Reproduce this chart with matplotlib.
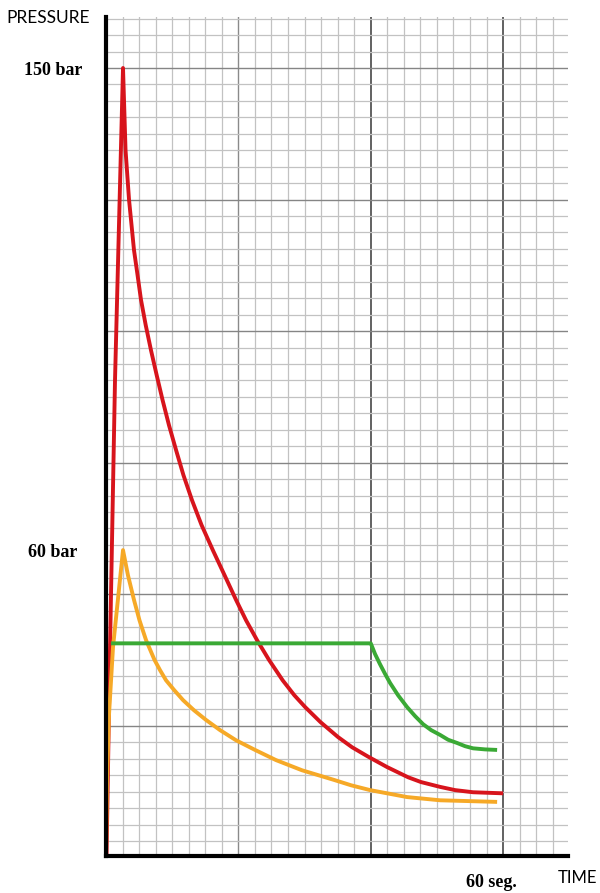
import numpy as np
import matplotlib
matplotlib.use("Agg")
import matplotlib.pyplot as plt
from matplotlib.transforms import ScaledTranslation

# ---- data (time in s, pressure in bar) ----
red_t = [0.08, 0.60, 1.36, 2.57, 2.72, 2.95, 3.48, 4.23, 4.76, 5.29, 6.00, 6.80, 7.65, 8.55,
         9.52, 10.58, 11.70, 13.00, 14.43, 16.14, 17.92, 19.65, 21.16, 22.82, 24.63, 26.69,
         28.46, 30.09, 32.40, 35.06, 37.18, 39.67, 42.47, 45.64, 47.60, 50.48, 52.74,
         55.46, 60.0]
red_p = [2.9, 41.3, 91.7, 150.0, 144.0, 134.7, 125.4, 116.0, 111.4, 106.7, 102.0, 97.3, 92.7, 88.0,
         83.3, 78.7, 74.0, 69.3, 64.7, 60.0, 55.3, 50.7, 46.9, 43.2, 39.5, 35.7,
         32.9, 30.7, 27.9, 25.1, 23.2, 21.4, 19.5, 17.6, 16.7, 15.8, 15.2,
         14.8, 14.6]

orange_t = [0.0, 0.15, 0.45, 1.06, 2.57, 3.32, 4.23, 5.06, 6.05, 7.33, 8.16, 9.07, 10.28,
            11.64, 13.30, 15.11, 17.23, 19.65, 22.52, 25.69, 29.62, 34.46, 37.03, 39.90,
            45.49, 50.48, 59.09]
orange_p = [2.7, 17.1, 29.2, 41.9, 60.0, 55.3, 50.7, 46.9, 43.2, 39.5, 37.6, 35.7, 33.9,
            32.0, 30.1, 28.3, 26.4, 24.5, 22.7, 20.8, 18.9, 17.1, 16.1, 15.2,
            13.9, 13.3, 13.0]

green_t = [0.76, 40.0, 40.65, 41.40, 42.16, 42.92, 44.13, 45.49, 46.71, 47.91, 49.12,
           50.48, 51.69, 53.04, 54.25, 55.46, 57.28, 59.09]
green_p = [42.6, 42.6, 40.6, 38.7, 36.9, 35.2, 32.9, 30.7, 29.0, 27.5, 26.4,
           25.5, 24.6, 24.0, 23.4, 23.0, 22.8, 22.7]

ytick_vals = [150, 60]
ytick_labels = ["150 bar", "60 bar"]
xtick_val = 60
xtick_label = "60 seg."

# ---- figure ----
fig = plt.figure(figsize=(6.0, 8.93), dpi=100)
ax = fig.add_axes([106/600, 1-856/893, (568-106)/600, (856-17)/893])

x_max = 69.8
y_min = 2.9
y_step = 3.07
y_max = 150 + (68-17)/5.356
ax.set_xlim(0, x_max)
ax.set_ylim(y_min, y_max)

# grid paper
for k in range(1, 28):
    xv = 2.5 * k
    if xv in (40.0, 60.0):
        c, lw = "#555555", 1.3
    elif k % 8 == 0:
        c, lw = "#8a8a8a", 1.0
    else:
        c, lw = "#c2c2c2", 0.9
    ax.axvline(xv, color=c, lw=lw, zorder=0)
for k in range(-3, 48):
    yv = 150 - y_step * k
    if yv > y_max:
        continue
    if k % 8 == 0:
        c, lw = "#858585", 1.0
    else:
        c, lw = "#c2c2c2", 0.9
    ax.axhline(yv, color=c, lw=lw, zorder=0)

kw = dict(lw=2.8, solid_capstyle="butt", solid_joinstyle="round")
ax.plot(red_t, red_p, color="#d7141c", zorder=3, **kw)
ax.plot(orange_t, orange_p, color="#f6a927", zorder=3, **kw)
ax.plot(green_t, green_p, color="#3aa935", zorder=4, **kw)

for s in ("top", "right"):
    ax.spines[s].set_visible(False)
for s in ("left", "bottom"):
    ax.spines[s].set_linewidth(3.0)
    ax.spines[s].set_color("black")
    ax.spines[s].set_zorder(5)

ax.set_yticks(ytick_vals)
ax.set_yticklabels(ytick_labels, fontfamily="Liberation Serif", fontweight="bold", fontsize=13)
ax.tick_params(axis="y", length=0, pad=17)
ax.set_xticks([])
lbl60 = ax.get_yticklabels()[1]
lbl60.set_transform(lbl60.get_transform() + ScaledTranslation(-5/100, 0, fig.dpi_scale_trans))

ax.text(xtick_val - 1.8, -0.032, xtick_label, transform=ax.get_xaxis_transform(),
        ha="center", va="center", fontfamily="Liberation Serif", fontweight="bold", fontsize=13)
fig.text(597/600, 1-878/893, "TIME", ha="right", va="center", fontfamily="Lato", fontsize=12)
fig.text(6/600, 1-18/893, "PRESSURE", ha="left", va="center", fontfamily="Lato", fontsize=12.5)

fig.savefig("out.png", dpi=100)
